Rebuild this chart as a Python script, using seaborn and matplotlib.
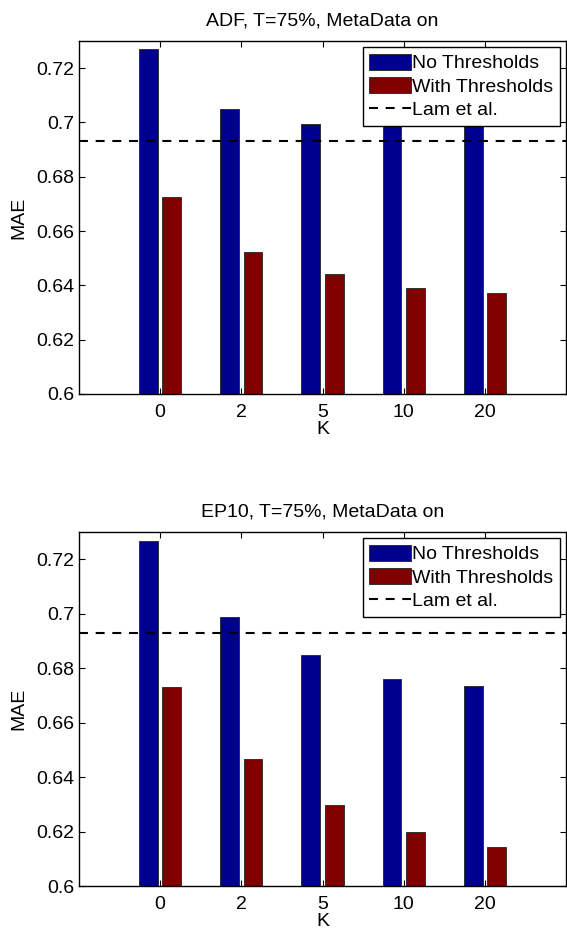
import pandas as pd
import matplotlib.pyplot as plt
import seaborn as sns
from matplotlib.lines import Line2D
from matplotlib.patches import Patch

# DATA

K_VALUES = ['0', '2', '5', '10', '20']
SERIES = ['No Thresholds', 'With Thresholds']

ADF_NO_THRESH = [0.7271, 0.7050, 0.6994, 0.7005, 0.7005]
ADF_WITH_THRESH = [0.6727, 0.6523, 0.6442, 0.6390, 0.6372]
ADF_LAM = 0.6932

EP10_NO_THRESH = [0.7267, 0.6988, 0.6847, 0.6759, 0.6733]
EP10_WITH_THRESH = [0.6729, 0.6466, 0.6296, 0.6197, 0.6142]
EP10_LAM = 0.6930

TITLES = ['ADF, T=75%, MetaData on', 'EP10, T=75%, MetaData on']
Y_TICKS = [0.6, 0.62, 0.64, 0.66, 0.68, 0.7, 0.72]
Y_TICK_LABELS = ['0.6', '0.62', '0.64', '0.66', '0.68', '0.7', '0.72']

COLORS = ['#00008f', '#800000']
DASH = (0, (4.3, 3.7))
FS = 14


def make_df(no_thr, with_thr):
    rows = []
    for k, a, b in zip(K_VALUES, no_thr, with_thr):
        rows.append({'K': k, 'Series': SERIES[0], 'MAE': a})
        rows.append({'K': k, 'Series': SERIES[1], 'MAE': b})
    return pd.DataFrame(rows)


# PLOTTING

sns.set_style('ticks')
plt.rcParams['font.family'] = ['Liberation Sans', 'DejaVu Sans']
plt.rcParams['xtick.direction'] = 'in'
plt.rcParams['ytick.direction'] = 'in'
plt.rcParams['text.color'] = 'black'
plt.rcParams['axes.labelcolor'] = 'black'
plt.rcParams['xtick.color'] = 'black'
plt.rcParams['ytick.color'] = 'black'

fig = plt.figure(figsize=(5.67, 9.31), dpi=100)
ax_top = fig.add_axes([0.1393, 0.5768, 0.859, 0.3792])
ax_bot = fig.add_axes([0.1393, 0.0483, 0.859, 0.3803])

panels = [
    (ax_top, make_df(ADF_NO_THRESH, ADF_WITH_THRESH), ADF_LAM, TITLES[0]),
    (ax_bot, make_df(EP10_NO_THRESH, EP10_WITH_THRESH), EP10_LAM, TITLES[1]),
]

for ax, df, lam, title in panels:
    sns.barplot(data=df, x='K', y='MAE', hue='Series', order=K_VALUES,
                hue_order=SERIES, palette=COLORS, width=0.576, gap=0.19,
                saturation=1, edgecolor='#222222', linewidth=0.6,
                legend=False, ax=ax)
    ax.axhline(lam, color='black', linestyle=DASH, linewidth=1.5)

    ax.set_xlim(-1, 5)
    ax.set_ylim(0.6, 0.73)
    ax.set_yticks(Y_TICKS)
    ax.set_yticklabels(Y_TICK_LABELS)
    ax.tick_params(axis='both', labelsize=FS, length=4, width=0.8,
                   top=True, right=True, colors='black')
    ax.tick_params(axis='x', pad=7)
    for spine in ax.spines.values():
        spine.set_visible(True)
        spine.set_color('black')
        spine.set_linewidth(1.0)

    ax.set_title(title, fontsize=FS, pad=11, color='black')
    ax.set_xlabel('K', fontsize=FS, labelpad=0, color='black')
    ax.set_ylabel('MAE', fontsize=FS, labelpad=6, color='black')

    handles = [
        Patch(facecolor=COLORS[0], edgecolor='#222222', linewidth=0.6),
        Patch(facecolor=COLORS[1], edgecolor='#222222', linewidth=0.6),
        Line2D([0], [0], color='black', linestyle=DASH, linewidth=1.5),
    ]
    leg = ax.legend(handles, SERIES + ['Lam et al.'], loc='upper right',
                    bbox_to_anchor=(1.0, 1.0), fontsize=FS,
                    frameon=True, fancybox=False, framealpha=1,
                    edgecolor='black', handlelength=2.15, handleheight=0.9,
                    handletextpad=0.05, labelspacing=0.24, borderpad=0.35,
                    borderaxespad=0.3, labelcolor='black')
    leg.get_frame().set_linewidth(1.0)

fig.savefig('out.png', dpi=100)
